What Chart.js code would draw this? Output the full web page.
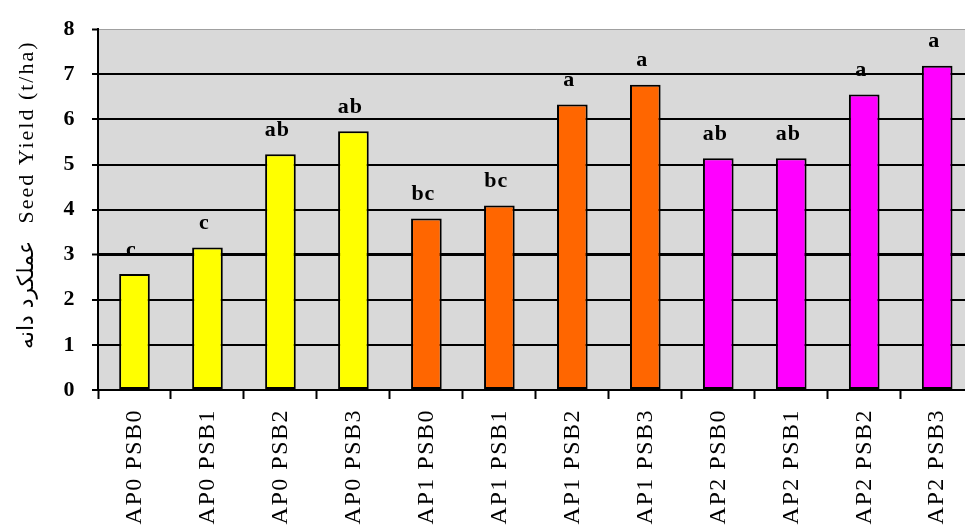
<!DOCTYPE html>
<html>
<head>
<meta charset="utf-8">
<script src="https://cdn.jsdelivr.net/npm/chart.js@4.4.1/dist/chart.umd.min.js"></script>
<style>
  html, body { margin: 0; padding: 0; background: #fff; overflow: hidden; }
  #wrap { width: 976px; height: 529px; }
</style>
</head>
<body>
<div id="wrap"><canvas id="myChart" width="976" height="529"></canvas></div>
<script>
// данные
const categories = ['AP0 PSB0', 'AP0 PSB1', 'AP0 PSB2', 'AP0 PSB3',
                    'AP1 PSB0', 'AP1 PSB1', 'AP1 PSB2', 'AP1 PSB3',
                    'AP2 PSB0', 'AP2 PSB1', 'AP2 PSB2', 'AP2 PSB3'];
const seedYield = [2.57, 3.16, 5.23, 5.74, 3.80, 4.09, 6.33, 6.77, 5.14, 5.14, 6.55, 7.19];
const letters = ['c', 'c', 'ab', 'ab', 'bc', 'bc', 'a', 'a', 'ab', 'ab', 'a', 'a'];
const barColors = ['#FFFF00', '#FFFF00', '#FFFF00', '#FFFF00',
                   '#FF6600', '#FF6600', '#FF6600', '#FF6600',
                   '#FF00FF', '#FF00FF', '#FF00FF', '#FF00FF'];
const yMin = 0, yMax = 8, yStep = 1;
const titleEn = 'Seed Yield (t/ha)';
const titleFa = 'عملکرد دانه';

const serif = '"Liberation Serif", "Times New Roman", serif';

// серый фон области графика
const plotBg = {
  id: 'plotBg',
  beforeDraw(chart) {
    const { ctx, chartArea } = chart;
    ctx.save();
    ctx.fillStyle = '#D9D9D9';
    ctx.fillRect(chartArea.left, chartArea.top, chart.width - chartArea.left, chartArea.bottom - chartArea.top);
    ctx.restore();
    // разрядка для подписей осей
    ctx.letterSpacing = '1.5px';
  },
  afterDraw(chart) {
    chart.ctx.letterSpacing = '0px';
  }
};

// буквы над столбиками
const barLetters = {
  id: 'barLetters',
  afterDatasetsDraw(chart) {
    const ctx = chart.ctx;
    const meta = chart.getDatasetMeta(0);
    ctx.save();
    ctx.letterSpacing = '1px';
    ctx.font = 'bold 22px ' + serif;
    ctx.fillStyle = '#000';
    ctx.textAlign = 'center';
    ctx.textBaseline = 'middle';
    meta.data.forEach((bar, i) => {
      ctx.fillText(letters[i], bar.x - 3, bar.y - 24);
    });
    ctx.restore();
  }
};

// подпись оси Y (англ. + перс.)
const yTitle = {
  id: 'yTitle',
  afterDraw(chart) {
    const ctx = chart.ctx;
    ctx.save();
    ctx.fillStyle = '#000';
    ctx.textAlign = 'center';
    ctx.textBaseline = 'middle';
    ctx.translate(27, 132);
    ctx.rotate(-Math.PI / 2);
    ctx.letterSpacing = '2px';
    ctx.font = '22px ' + serif;
    ctx.fillText(titleEn, 0, 0);
    ctx.restore();

    ctx.save();
    ctx.fillStyle = '#000';
    ctx.textAlign = 'center';
    ctx.textBaseline = 'middle';
    ctx.translate(27, 295);
    ctx.rotate(-Math.PI / 2);
    ctx.letterSpacing = '0px';
    ctx.font = '22px "DejaVu Sans", sans-serif';
    ctx.fillText(titleFa, 0, 0);
    ctx.restore();
  }
};

let ctx = document.getElementById('myChart').getContext('2d');
let myChart = new Chart(ctx, {
  type: 'bar',
  data: {
    labels: categories,
    datasets: [{
      data: seedYield,
      backgroundColor: barColors,
      borderColor: '#000',
      borderWidth: 2,
      borderSkipped: false,
      barPercentage: 0.84,
      categoryPercentage: 0.5
    }]
  },
  plugins: [plotBg, barLetters, yTitle],
  options: {
    responsive: false,
    animation: false,
    layout: {
      padding: { top: 26, right: 0, left: 0, bottom: 0 }
    },
    plugins: {
      legend: { display: false },
      tooltip: { enabled: false }
    },
    scales: {
      x: {
        afterFit(scale) { scale.height = 139; },
        border: { display: true, color: '#000', width: 2 },
        grid: {
          offset: true,
          drawOnChartArea: false,
          drawTicks: true,
          tickLength: 9,
          tickColor: '#000',
          tickWidth: 2
        },
        ticks: {
          minRotation: 90,
          maxRotation: 90,
          padding: 10,
          color: '#000',
          font: { family: serif, size: 24 }
        }
      },
      y: {
        min: yMin,
        max: yMax,
        afterFit(scale) { scale.width = 98; },
        border: { display: true, color: '#000', width: 2 },
        grid: {
          color: c => c.tick && c.tick.value === yMax ? '#A0A0A0' : '#000',
          lineWidth: c => {
            if (!c.tick) return 2;
            if (c.tick.value === yMax) return 1;
            if (c.tick.value === 3) return 3;
            return 2;
          },
          drawTicks: true,
          tickLength: 6,
          tickColor: '#000',
          tickWidth: 2
        },
        ticks: {
          stepSize: yStep,
          padding: 16,
          color: '#000',
          font: { family: serif, size: 22, weight: 'bold' }
        }
      }
    }
  }
});
</script>
</body>
</html>
